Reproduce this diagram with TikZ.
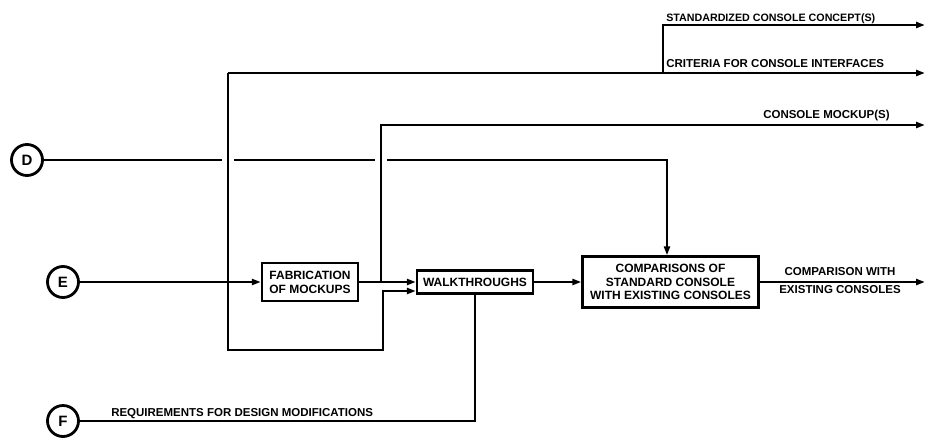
\documentclass[tikz,border=0pt]{standalone}
\usepackage{fontspec}
\setmainfont{Liberation Sans}
\usetikzlibrary{arrows.meta}
\newcommand{\lblfont}{\bfseries\fontsize{11.5}{13.5}\selectfont}
\newcommand{\boxfont}{\bfseries\fontsize{12}{13.8}\selectfont}
\begin{document}
\begin{tikzpicture}[x=1pt,y=-1pt,
  line width=2.5pt,
  arr/.style={-{Triangle[length=9pt,width=6pt]}},
  procbox/.style={draw,line width=2.4pt,inner sep=0pt,align=center,font=\boxfont},
  circ/.style={draw,circle,line width=2.8pt,minimum size=31pt,inner sep=0pt,font=\bfseries\fontsize{15}{15}\selectfont},
  lab/.style={inner sep=0pt,font=\lblfont}]
\useasboundingbox (0,0) rectangle (927,437);

% nodes
\node[circ] (D) at (27,160) {D};
\node[circ] (E) at (63,282) {E};
\node[circ] (F) at (63,421) {F};
\node[procbox, minimum width=96pt, minimum height=38pt] (fab) at (310,282) {FABRICATION\\OF MOCKUPS};
\node[procbox, minimum width=116pt, minimum height=23pt] (walk) at (475,282) {WALKTHROUGHS};
\node[procbox, minimum width=176pt, minimum height=51pt] (comp) at (670.5,282) {COMPARISONS OF\\STANDARD CONSOLE\\WITH EXISTING CONSOLES};

% coordinates
\coordinate (endSC) at (925,25);
\coordinate (endCI) at (925,73);
\coordinate (endCM) at (925,125);
\coordinate (endCE) at (925,282);
\coordinate (lt) at (228,73);
\coordinate (lb) at (228,350);
\coordinate (rb) at (383,350);
\coordinate (br) at (663,73);
\coordinate (j1) at (381,282);
\coordinate (h1a) at (222,160);
\coordinate (h1b) at (234,160);
\coordinate (h2a) at (375,160);
\coordinate (h2b) at (387,160);

% connectors
\draw[arr] (E) -- (fab);
\draw[arr] (fab.east) -- (fab.east -| walk.west);
\draw[arr] (j1) |- (endCM);
\draw[arr] (lt) -- (lb) -- (rb) |- ([yshift=-9pt]walk.west);
\draw[arr] (lt) -- (endCI);
\draw[arr] (br) |- (endSC);
\draw (D) -- (h1a);
\draw (h1b) -- (h2a);
\draw[arr] (h2b) -| ([xshift=-3.5pt]comp.north);
\draw[arr] (walk.east) -- (walk.east -| comp.west);
\draw[arr] (comp.east) -- (endCE);
\draw (F) -- (F -| walk.south) -- (walk.south);

% labels
\node[lab, anchor=base west] at (665,21) {\fontsize{10.7}{12}\selectfont STANDARDIZED CONSOLE CONCEPT(S)};
\node[lab, anchor=base west] at (665,67) {CRITERIA FOR CONSOLE INTERFACES};
\node[lab, anchor=base east] at (891,118) {CONSOLE MOCKUP(S)};
\node[lab] at (840,272) {COMPARISON WITH};
\node[lab] at (840,290) {EXISTING CONSOLES};
\node[lab, anchor=base west] at (110,416) {REQUIREMENTS FOR DESIGN MODIFICATIONS};
\end{tikzpicture}
\end{document}
